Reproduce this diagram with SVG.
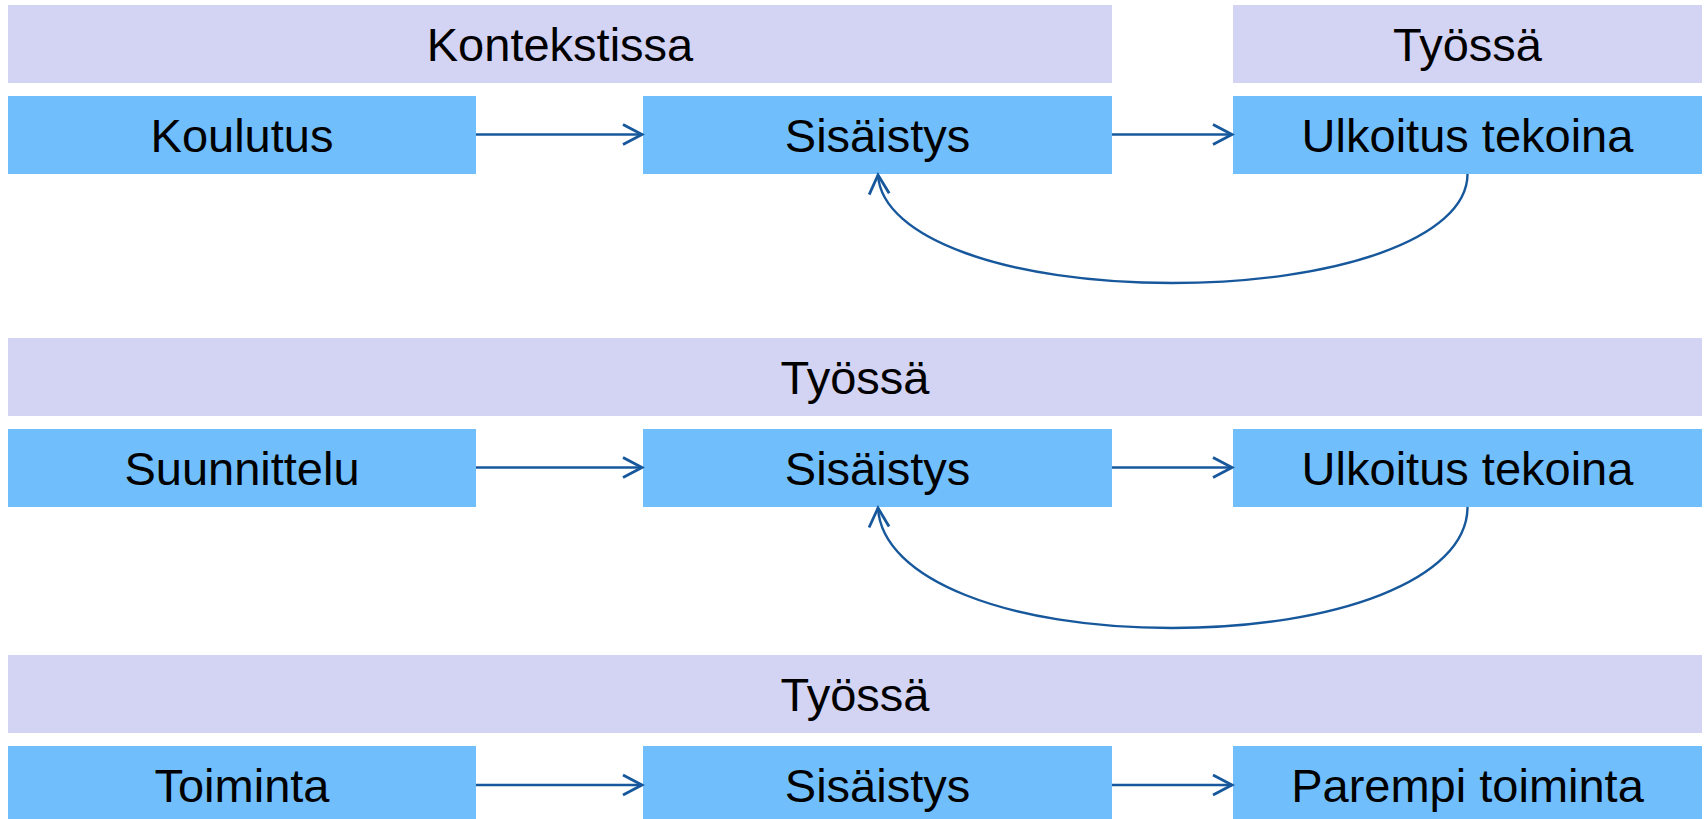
<svg xmlns="http://www.w3.org/2000/svg" width="1704" height="819" viewBox="0 0 1704 819">
<style>
.hdr{fill:#D3D3F4}
.box{fill:#71BEFC}
.t{font-family:"Liberation Sans",Arial,sans-serif;font-size:47px;fill:#000;text-anchor:middle}
.c{fill:none;stroke:#17589C;stroke-width:2.4}
</style>
<defs>
<marker id="ah" markerUnits="userSpaceOnUse" viewBox="-22 -13 25 26" refX="0" refY="0" markerWidth="25" markerHeight="26" orient="auto" overflow="visible">
<path d="M-19,-10 L0,0 L-19,10" fill="none" stroke="#17589C" stroke-width="2.8"/>
</marker>
</defs>
<rect width="1704" height="819" fill="#fff"/>

<g id="hdr-kontekstissa"><rect class="hdr" x="8" y="5" width="1104" height="78"/><text class="t" x="560" y="61">Kontekstissa</text></g>
<g id="hdr-tyossa-1"><rect class="hdr" x="1233" y="5" width="469" height="78"/><text class="t" x="1467.5" y="61">Työssä</text></g>
<g id="koulutus"><rect class="box" x="8" y="96" width="468" height="78"/><text class="t" x="242" y="152">Koulutus</text></g>
<g id="sisaistys-1"><rect class="box" x="643" y="96" width="469" height="78"/><text class="t" x="877.5" y="152">Sisäistys</text></g>
<g id="ulkoitus-1"><rect class="box" x="1233" y="96" width="469" height="78"/><text class="t" x="1467.5" y="152">Ulkoitus tekoina</text></g>

<g id="hdr-tyossa-2"><rect class="hdr" x="8" y="338" width="1694" height="78"/><text class="t" x="855" y="394">Työssä</text></g>
<g id="suunnittelu"><rect class="box" x="8" y="429" width="468" height="78"/><text class="t" x="242" y="485">Suunnittelu</text></g>
<g id="sisaistys-2"><rect class="box" x="643" y="429" width="469" height="78"/><text class="t" x="877.5" y="485">Sisäistys</text></g>
<g id="ulkoitus-2"><rect class="box" x="1233" y="429" width="469" height="78"/><text class="t" x="1467.5" y="485">Ulkoitus tekoina</text></g>

<g id="hdr-tyossa-3"><rect class="hdr" x="8" y="655" width="1694" height="78"/><text class="t" x="855" y="711">Työssä</text></g>
<g id="toiminta"><rect class="box" x="8" y="746" width="468" height="78"/><text class="t" x="242" y="802">Toiminta</text></g>
<g id="sisaistys-3"><rect class="box" x="643" y="746" width="469" height="78"/><text class="t" x="877.5" y="802">Sisäistys</text></g>
<g id="parempi"><rect class="box" x="1233" y="746" width="469" height="78"/><text class="t" x="1467.5" y="802">Parempi toiminta</text></g>

<g id="connectors">
<line class="c" x1="476" y1="134.5" x2="642" y2="134.5" marker-end="url(#ah)"/>
<line class="c" x1="1112" y1="134.5" x2="1232" y2="134.5" marker-end="url(#ah)"/>
<path class="c" d="M1467.5,174 C1467.5,239 1335,283 1172,283 C1009,283 882,239 878,175" marker-end="url(#ah)"/>
<line class="c" x1="476" y1="467.5" x2="642" y2="467.5" marker-end="url(#ah)"/>
<line class="c" x1="1112" y1="467.5" x2="1232" y2="467.5" marker-end="url(#ah)"/>
<path class="c" d="M1467.5,507 C1467.5,580 1335,628 1172,628 C1009,628 882,580 878,508" marker-end="url(#ah)"/>
<line class="c" x1="476" y1="785" x2="642" y2="785" marker-end="url(#ah)"/>
<line class="c" x1="1112" y1="785" x2="1232" y2="785" marker-end="url(#ah)"/>
</g>
</svg>
